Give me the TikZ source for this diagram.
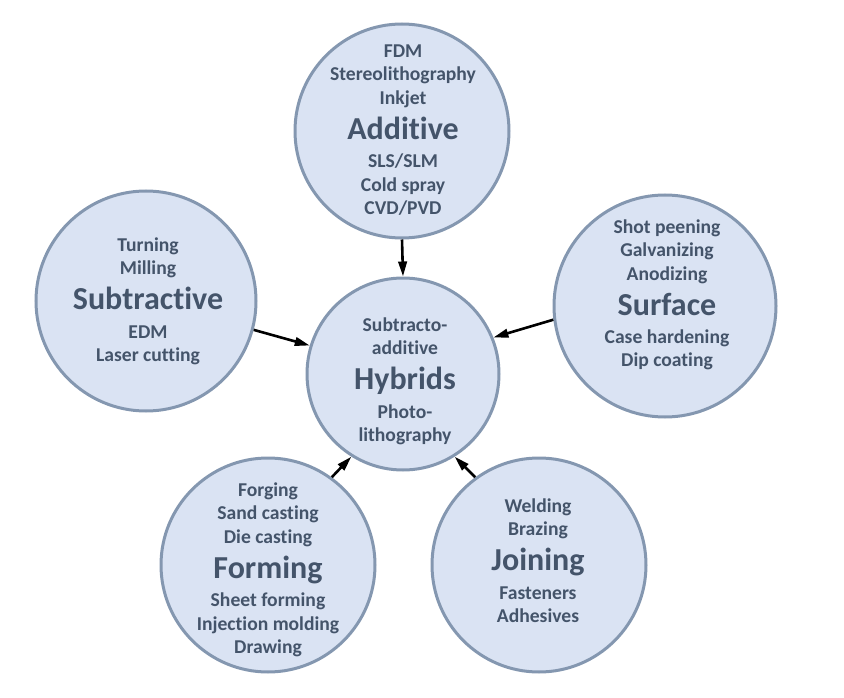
\documentclass[tikz,border=0pt]{standalone}
\usepackage{fontspec}
\setmainfont{Carlito}[Ligatures={NoCommon,NoContextual,NoRequired}]
\usetikzlibrary{arrows.meta}
\definecolor{bfill}{HTML}{DAE3F3}
\definecolor{bline}{HTML}{8497B0}
\definecolor{btext}{HTML}{44546A}
\newcommand{\txtfont}{\lineskiplimit=-100pt\lineskip=0pt\fontsize{19.6}{23.3}\selectfont\bfseries}
\newcommand{\ttl}[1]{{\fontsize{32}{23.3}\selectfont #1}}
\begin{document}
\begin{tikzpicture}[x=1pt,y=-1pt,
  bubble/.style={circle, draw=bline, fill=bfill, line width=3pt, inner sep=0pt, minimum size=#1},
  txt/.style={anchor=north, align=center, inner sep=0pt, text=btext, font=\txtfont},
  arr/.style={line width=2.6pt, -{Triangle[length=15pt,width=8.5pt]}, black}]
\useasboundingbox (0,0) rectangle (844,698);

\node[bubble=214] (add)  at (402,131) {};
\node[bubble=192] (hyb)  at (403,374) {};
\node[bubble=220] (sub)  at (146,301) {};
\node[bubble=222] (surf) at (665,306) {};
\node[bubble=214] (form) at (268,565) {};
\node[bubble=214] (join) at (539,565) {};

\node[txt] (addT) at (403,44.7) {FDM\\Stereolithography\\Inkjet\\[11.7pt]\ttl{Additive}\\[5.2pt]SLS/SLM\\Cold spray\\CVD/PVD};
\node[txt] (hybT) at (405,317.5) {Subtracto-\\additive\\[11.7pt]\ttl{Hybrids}\\[5.2pt]Photo-\\lithography};
\node[txt] (subT) at (148,237.7) {Turning\\Milling\\[11.7pt]\ttl{Subtractive}\\[5.2pt]EDM\\Laser cutting};
\node[txt] (surfT) at (667,219.5) {Shot peening\\Galvanizing\\Anodizing\\[11.7pt]\ttl{Surface}\\[5.2pt]Case hardening\\Dip coating};
\node[txt] (formT) at (268,482.7) {Forging\\Sand casting\\Die casting\\[11.7pt]\ttl{Forming}\\[5.2pt]Sheet forming\\Injection molding\\Drawing};
\node[txt] (joinT) at (538,498.5) {Welding\\Brazing\\[11.7pt]\ttl{Joining}\\[5.2pt]Fasteners\\Adhesives};

\draw[arr] (add.south) -- (hyb.north);
\draw[arr] (sub.-15) -- (hyb.163);
\draw[arr] (surf.187) -- (hyb.22);
\draw[arr] (form.54) -- (hyb.238);
\draw[arr] (join.126) -- (hyb.302);
\end{tikzpicture}
\end{document}
